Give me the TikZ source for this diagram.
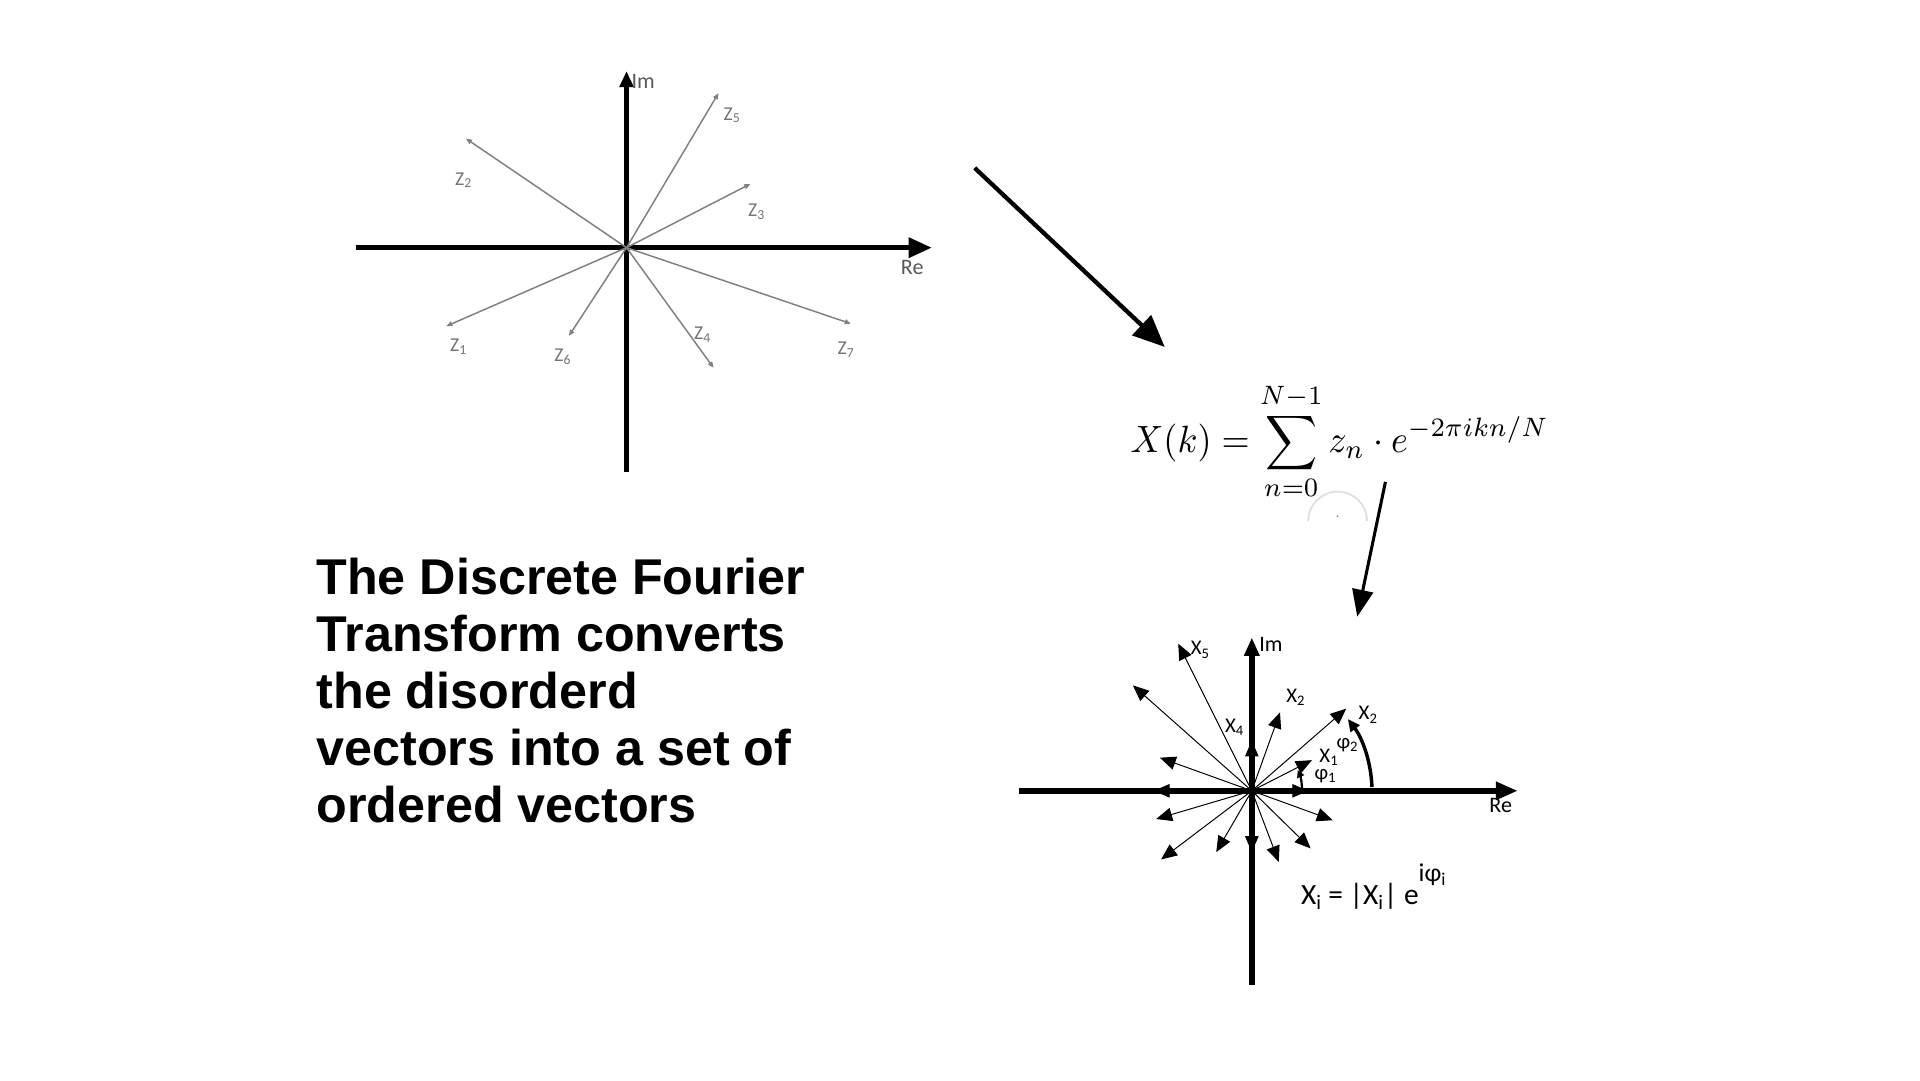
\RequirePackage{fix-cm}
\documentclass[tikz,border=0pt]{standalone}
\usepackage{fontspec}
\newfontfamily\bodyfont{Liberation Sans}
\newfontfamily\labelfont{Carlito}
\usetikzlibrary{arrows.meta}

\tikzset{
    axis/.style={line width=4pt, -{Triangle[length=19pt,width=16pt]}},
    thinaxis/.style={line width=4pt, -{Triangle[length=13pt,width=11pt]}},
    faintvec/.style={gray, line width=1.2pt, -{Triangle[length=5pt,width=4pt]}},
    sharpvec/.style={line width=0.8pt, -{Triangle[length=13pt,width=11pt]}},
    bigarrow/.style={line width=3.5pt, -{Triangle[length=26pt,width=22pt]}},
    phiarc/.style={line width=2.8pt, -{Triangle[length=10pt,width=9pt]}},
    zlab/.style={gray!90!black, font=\labelfont\fontsize{16}{16}\selectfont, inner sep=0pt},
    xlab/.style={font=\labelfont\fontsize{17}{17}\selectfont, inner sep=0pt, anchor=west},
    axlab/.style={font=\labelfont\fontsize{18}{18}\selectfont, inner sep=0pt},
}

\begin{document}
\begin{tikzpicture}[x=1pt,y=-1pt]
    \useasboundingbox (0,0) rectangle (1566,881);

    % disordered vectors
    \coordinate (oz) at (511,202);
    \coordinate (rez) at (760,202);
    \coordinate (imz) at (511,58);
    \draw[axis] (290,202) -- (rez);
    \draw[thinaxis] (511,385) -- (imz);
    \node[axlab, gray!70!black, anchor=west] at (515,66) {Im};
    \node[axlab, gray!70!black] at (744,218) {Re};

    \foreach \tx/\ty/\i/\lx/\ly in {586/76/5/597/94, 380/113/2/378/147,
        612/150/3/617/173, 364/266/1/374/283, 464/274/6/459/291,
        582/300/4/573/273, 694/264/7/690/285}{
        \coordinate (z\i) at (\tx,\ty);
        \draw[faintvec] (oz) -- (z\i);
        \node[zlab] at (\lx,\ly) {Z\textsubscript{\i}};
    };

    % transform
    \coordinate (a1s) at (795,137);
    \coordinate (a1e) at (950,283);
    \draw[bigarrow] (a1s) -- (a1e);

    \node[anchor=base west, inner sep=0pt] (dft) at (922,369)
        {\scalebox{2.95}[3.1]{$\displaystyle X(k)=\sum_{n=0}^{N-1} z_n\cdot e^{-2\pi ikn/N}$}};
    \draw[gray!25, line width=1.5pt] (1067,425) arc[start angle=180, end angle=360, radius=24];
    \fill[gray] (1091,421) circle (0.8);

    \coordinate (a2s) at (1130,393);
    \coordinate (a2e) at (1107,503);
    \draw[bigarrow, line width=2.5pt, -{Triangle[length=22pt,width=17pt]}] (a2s) -- (a2e);

    % ordered vectors
    \coordinate (ox) at (1021,645);
    \coordinate (rex) at (1238,645);
    \coordinate (imx) at (1021,520);
    \draw[axis, line width=4.5pt, -{Triangle[length=18pt,width=14pt]}] (831,645) -- (rex);
    \draw[thinaxis, line width=4.5pt, -{Triangle[length=15pt,width=12pt]}] (1021,803) -- (imx);
    \node[axlab, anchor=west] at (1027,526) {Im};
    \node[axlab] at (1224,657) {Re};

    \foreach \tx/\ty [count=\k] in {961/525, 924/559, 1044/581, 1098/578, 1021/604,
        946/618, 1070/620, 1067/645, 941/645, 943/668, 947/701, 992/695,
        1021/695, 1043/703, 1069/692, 1087/669}{
        \coordinate (x\k) at (\tx,\ty);
        \draw[sharpvec] (ox) -- (x\k);
    };

    \node[xlab] at (971,530) {X\textsubscript{5}};
    \node[xlab] at (1049,569) {X\textsubscript{2}};
    \node[xlab] at (1108,583) {X\textsubscript{2}};
    \node[xlab] at (999,593) {X\textsubscript{4}};
    \node[xlab] at (1076,618) {X\textsubscript{1}};
    \node[xlab] at (1072,633) {φ\textsubscript{1}};
    \node[xlab] at (1090,608) {φ\textsubscript{2}};

    \draw[phiarc] (1119,642) arc[start angle=-2, end angle=-37, radius=98];
    \draw[phiarc, line width=1.8pt, -{Triangle[length=6pt,width=6pt]}] (1062,644) arc[start angle=-1, end angle=-24, radius=41];

    \node[anchor=base west, inner sep=0pt, font=\labelfont\fontsize{24}{24}\selectfont] (polar) at (1061,738)
        {X\textsubscript{i} = |X\textsubscript{i}| e\raisebox{19pt}{\fontsize{21}{21}\selectfont iφ\textsubscript{i}}};

    % caption
    \node[anchor=north west, inner sep=0pt, align=left,
        font=\bodyfont\bfseries\fontsize{41}{46.5}\selectfont] (caption) at (258,455)
        {The Discrete Fourier\\Transform converts\\the disorderd\\vectors into a set of\\ordered vectors};
\end{tikzpicture}
\end{document}
